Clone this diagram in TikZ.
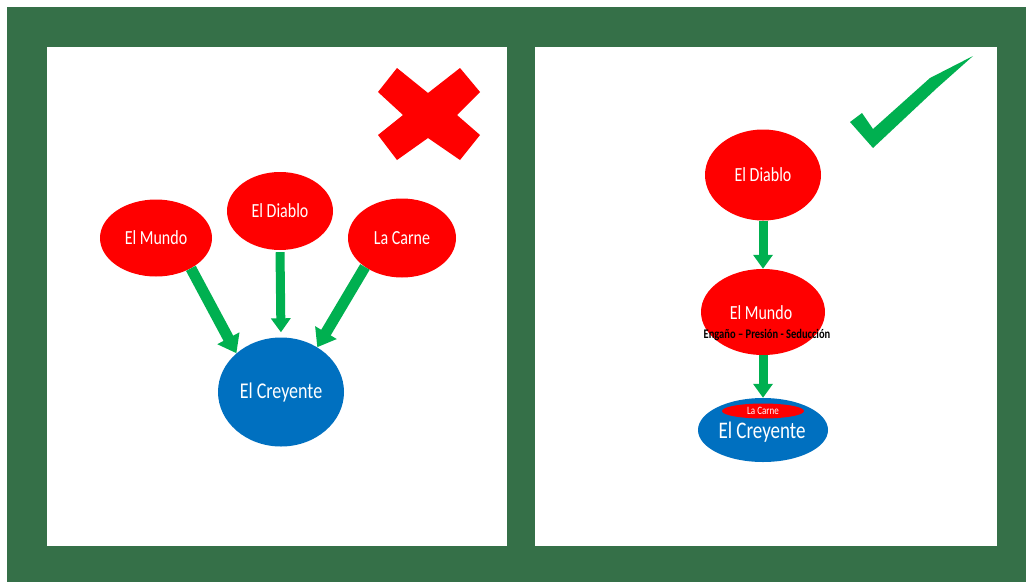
\documentclass[tikz,border=0pt]{standalone}
\usepackage{fontspec}
\setmainfont{Carlito}
\usetikzlibrary{arrows.meta,shapes.geometric}
\definecolor{bggreen}{RGB}{53,112,72}
\definecolor{ered}{RGB}{255,0,0}
\definecolor{eblue}{RGB}{0,112,192}
\definecolor{agreen}{RGB}{0,176,80}
\newcommand{\vst}[1]{\scalebox{1}[1.25]{#1}}
\tikzset{
  panel/.style={fill=white,draw=none},
  redell/.style={ellipse,fill=ered,draw=none,inner sep=0pt,text=white,font=\fontsize{16}{18}\selectfont},
  blueell/.style={ellipse,fill=eblue,draw=none,inner sep=0pt,text=white,font=\fontsize{18}{20}\selectfont},
  bigarrow/.style={draw=agreen,line width=11pt,-{Triangle[length=17pt,width=24pt]}},
  vertarrow/.style={draw=agreen,line width=9pt,-{Triangle[length=14pt,width=19pt]}},
}
\begin{document}
\begin{tikzpicture}[x=1pt,y=-1pt]
\useasboundingbox (0,0) rectangle (1026,582);
\fill[white] (0,0) rectangle (1026,582);
\fill[bggreen] (7,7) rectangle (1026,582);
\fill[panel] (47,47) rectangle (507,546);
\fill[panel] (535,47) rectangle (997,546);

% red X
\fill[ered] (397,68) -- (428,93) -- (460,68) -- (480,92) -- (457,115) -- (480,135) -- (460,160) -- (428,138) -- (397,160) -- (378,135) -- (403,115) -- (378,92) -- cycle;

% check mark
\fill[agreen] (850,122) -- (862,113) -- (873,129) -- (930,78) -- (973,56) -- (937,88) -- (873,148) -- cycle;

% left panel
\node[redell,minimum width=112pt,minimum height=77pt] (mundoL) at (156,238) {\vst{El Mundo}};
\node[redell,minimum width=106pt,minimum height=78pt] (diabloL) at (280,211) {\vst{El Diablo}};
\node[redell,minimum width=108pt,minimum height=79pt] (carneL) at (402,238) {\vst{La Carne}};
\node[blueell,minimum width=126pt,minimum height=109pt] (creyenteL) at (281,392) {\vst{El Creyente}};

\draw[bigarrow] (mundoL.-41) -- (creyenteL.139);
\draw[vertarrow,shorten <=2pt,shorten >=5pt] (diabloL.south) -- (creyenteL.north);
\draw[bigarrow] (carneL.-142) -- (creyenteL.51);

% right panel
\node[redell,minimum width=116pt,minimum height=91pt] (diabloR) at (763,175) {\vst{El Diablo}};
\node[redell,minimum width=124pt,minimum height=86pt] (mundoR) at (763,312) {};
\node[text=white,font=\fontsize{16}{18}\selectfont,inner sep=0pt] (mundoRtxt) at (761,313) {\vst{El Mundo}};
\node[font=\bfseries\fontsize{10.5}{12}\selectfont,text=black,inner sep=0pt] (eps) at (767,335) {\vst{Engaño – Presión - Seducción}};
\node[blueell,minimum width=130pt,minimum height=64pt] (creyenteR) at (763,430) {};
\node[text=white,font=\fontsize{19}{21}\selectfont,inner sep=0pt] (creyenteRtxt) at (762,432) {\vst{El Creyente}};
\node[ellipse,fill=ered,inner sep=0pt,minimum width=82pt,minimum height=15pt,text=white,font=\fontsize{9}{10}\selectfont] (carneR) at (763,411) {\vst{La Carne}};

\draw[vertarrow] (diabloR.south) -- (mundoR.north);
\draw[vertarrow] (mundoR.south) -- (creyenteR.north);
\end{tikzpicture}
\end{document}
